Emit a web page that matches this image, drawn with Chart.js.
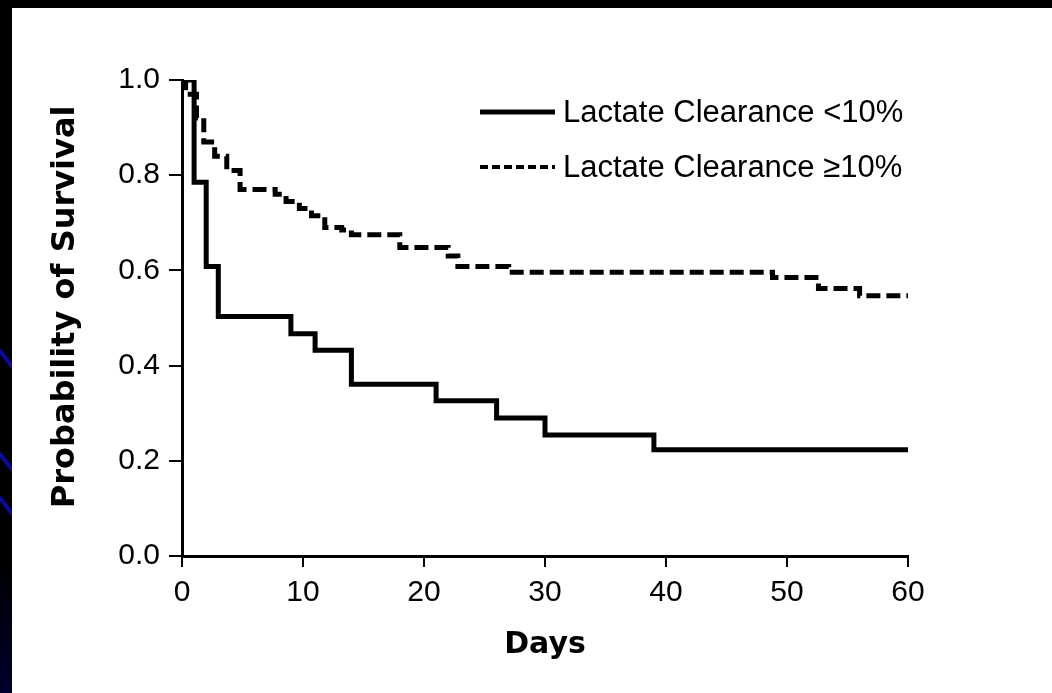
<!DOCTYPE html>
<html>
  <head>
    <title>Probability of Survival</title>
    <script src="https://cdn.jsdelivr.net/npm/chart.js"></script>
    <style>
      html,
      body {
        margin: 0;
        padding: 0;
        width: 100%;
        height: 100%;
        background: #ffffff;
        overflow: hidden;
      }
      #topbar {
        position: absolute;
        left: 0;
        top: 0;
        right: 0;
        height: 8px;
        background: #000;
      }
      /* left slide edge: black fading into navy, with blue streaks */
      #strip {
        position: absolute;
        left: 0;
        top: 8px;
        width: 12px;
        bottom: 0;
        overflow: hidden;
        background: linear-gradient(#000 0%, #000 80%, #00002c 100%);
      }
      .streak {
        position: absolute;
        left: -6px;
        width: 26px;
        height: 4px;
        background: #0a0aa0;
        transform: rotate(52deg);
      }
      #myChart {
        position: absolute;
        left: 0;
        top: 0;
      }
    </style>
  </head>
  <body>
    <div id="topbar"></div>
    <div id="strip">
      <div class="streak" style="top: 350px"></div>
      <div class="streak" style="top: 453px"></div>
      <div class="streak" style="top: 497px"></div>
    </div>
    <canvas id="myChart" width="1052" height="693"></canvas>
    <script>
      // Kaplan-Meier steps (day of event, survival after it)
      const lowDays = [0, 1, 2, 3, 9, 11, 14, 21, 26, 30, 39, 60];
      const lowSurvival = [1.0, 0.785, 0.608, 0.503, 0.467, 0.432, 0.361, 0.326, 0.29, 0.254, 0.223, 0.223];

      const highDays = [0, 0.3, 1.2, 1.8, 2.7, 3.7, 4.8, 7.7, 8.6, 9.7, 10.7, 11.8, 13.2, 14, 18, 22, 22.8, 27, 48.8, 52.6, 56, 60];
      const highSurvival = [1.0, 0.97, 0.92, 0.87, 0.84, 0.81, 0.77, 0.76, 0.745, 0.73, 0.715, 0.69, 0.685, 0.675, 0.648, 0.63, 0.608, 0.596, 0.585, 0.562, 0.547, 0.547];

      const xTicks = [0, 10, 20, 30, 40, 50, 60];
      const yTicks = [0, 0.2, 0.4, 0.6, 0.8, 1.0];
      const seriesLabels = ["Lactate Clearance <10%", "Lactate Clearance ≥10%"];

      const toPoints = (xs, ys) => xs.map((x, i) => ({ x: x, y: ys[i] }));

      // legend drawn inside the plot, top right
      const insideLegend = {
        id: "insideLegend",
        afterDraw(chart, args, opts) {
          const ctx = chart.ctx;
          chart.data.datasets.forEach((ds, i) => {
            const y = opts.rows[i];
            ctx.save();
            ctx.strokeStyle = "#000";
            ctx.lineWidth = opts.lineWidth[i];
            ctx.setLineDash(opts.dash[i]);
            ctx.beginPath();
            ctx.moveTo(opts.lineStart, y);
            ctx.lineTo(opts.lineEnd, y);
            ctx.stroke();
            ctx.setLineDash([]);
            ctx.fillStyle = "#000";
            ctx.font = opts.font;
            ctx.textBaseline = "middle";
            ctx.textAlign = "left";
            ctx.fillText(ds.label, opts.textX, y + 1);
            ctx.restore();
          });
        },
      };

      const ctx = document.getElementById("myChart").getContext("2d");
      new Chart(ctx, {
        type: "line",
        data: {
          datasets: [
            {
              label: seriesLabels[0],
              data: toPoints(lowDays, lowSurvival),
              borderColor: "#000",
              borderWidth: 5,
              stepped: "before",
              pointRadius: 0,
              fill: false,
              borderJoinStyle: "miter",
            },
            {
              label: seriesLabels[1],
              data: toPoints(highDays, highSurvival),
              borderColor: "#000",
              borderWidth: 5,
              borderDash: [14, 6],
              stepped: "before",
              pointRadius: 0,
              fill: false,
            },
          ],
        },
        options: {
          responsive: false,
          animation: false,
          layout: {
            padding: { left: 0, top: 80, right: 144, bottom: 0 },
          },
          scales: {
            x: {
              type: "linear",
              min: 0,
              max: 60,
              afterBuildTicks: (s) => {
                s.ticks = xTicks.map((v) => ({ value: v }));
              },
              afterFit: (s) => {
                s.height = 137;
              },
              ticks: {
                color: "#000",
                padding: 8,
                font: { family: "'Liberation Sans', Arial, sans-serif", size: 30 },
              },
              grid: {
                drawOnChartArea: false,
                color: "#000",
                lineWidth: 2,
                tickLength: 11,
              },
              border: { display: true, color: "#000", width: 3 },
              title: {
                display: true,
                text: "Days",
                color: "#000",
                font: { family: "'DejaVu Sans', sans-serif", size: 30, weight: "bold" },
                padding: { top: 0, bottom: 30 },
              },
            },
            y: {
              type: "linear",
              min: 0,
              max: 1,
              afterBuildTicks: (s) => {
                s.ticks = yTicks.map((v) => ({ value: v }));
              },
              afterFit: (s) => {
                s.width = 182;
              },
              ticks: {
                color: "#000",
                padding: 9,
                callback: (v) => Number(v).toFixed(1),
                font: { family: "'Liberation Sans', Arial, sans-serif", size: 30 },
              },
              grid: {
                drawOnChartArea: false,
                color: "#000",
                lineWidth: 2,
                tickLength: 13,
              },
              border: { display: true, color: "#000", width: 3 },
              title: {
                display: true,
                // two leading spaces lift the rotated title a little above centre
                text: "  Probability of Survival",
                color: "#000",
                font: { family: "'DejaVu Sans', sans-serif", size: 32, weight: "bold" },
                padding: { top: 46, bottom: 0 },
              },
            },
          },
          plugins: {
            legend: { display: false },
            tooltip: { enabled: false },
            insideLegend: {
              rows: [112, 167],
              lineStart: 480,
              lineEnd: 555,
              lineWidth: [5, 4],
              dash: [[], [8, 4]],
              textX: 563,
              font: "31px 'Liberation Sans', Arial, sans-serif",
            },
          },
        },
        plugins: [insideLegend],
      });
    </script>
  </body>
</html>
